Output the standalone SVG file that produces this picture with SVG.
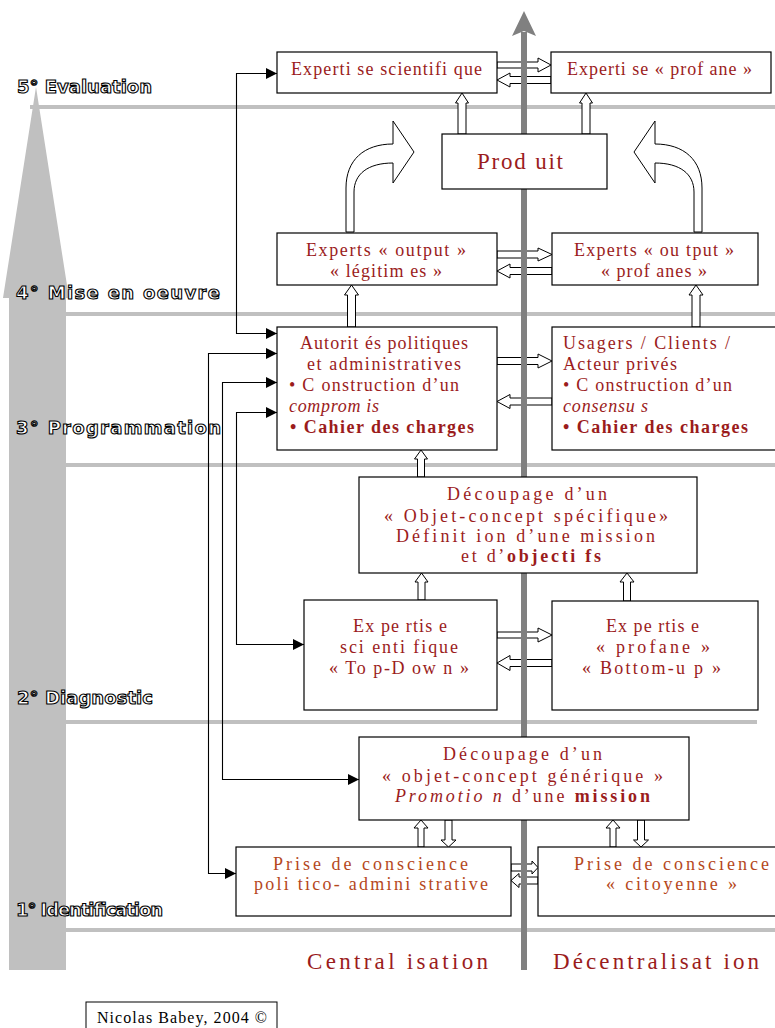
<svg xmlns="http://www.w3.org/2000/svg" width="775" height="1028" viewBox="0 0 775 1028" xml:space="preserve">
<defs>
<marker id="ah" markerUnits="userSpaceOnUse" markerWidth="11" markerHeight="11" refX="11" refY="5.5" orient="auto-start-reverse"><path d="M0,0 L11,5.5 L0,11 Z" fill="#000"/></marker>
<style>
.stage{stroke:#c0c0c0;stroke-width:4;fill:none}
.box{fill:#fff;stroke:#000;stroke-width:1.2}
.blk{fill:#fff;stroke:#000;stroke-width:1}
.ln{fill:none;stroke:#000;stroke-width:1.1;marker-start:url(#ah);marker-end:url(#ah)}
.t{font-family:"Liberation Serif","Times New Roman",serif;font-size:18px;fill:#9b1c1c}
.big{font-size:23px}
.o{fill:#b5481c}
.b{font-weight:bold}
.i{font-style:italic}
.lab{font-family:"DejaVu Sans","Liberation Sans",sans-serif;font-weight:bold;font-size:18px;fill:#fff;stroke:#000;stroke-width:1.1}
.cr{font-family:"Liberation Serif","Times New Roman",serif;font-size:16px;fill:#000}
</style>
</defs>
<g id="background">
<path class="stage" d="M30,107 H775 M60,314 H775 M60,465 H775 M60,722 H757 M60,930 H775"/>
<polygon points="9,970 9,298 3,298 36,87 69,298 66,298 66,970" fill="#c0c0c0"/>
</g>
<g id="connectors">
<polygon class="blk" points="497,62 538,62 538,58 551,65 538,72 538,68 497,68"/>
<polygon class="blk" points="497,80 510,73 510,76.5 551,76.5 551,83.5 510,83.5 510,87"/>
<polygon class="blk" points="497,251 538,251 538,248 552,254.5 538,261 538,258 497,258"/>
<polygon class="blk" points="497,271 510,264 510,267.5 552,267.5 552,274.5 510,274.5 510,278"/>
<polygon class="blk" points="497,357.5 538,357.5 538,354 552,361 538,368 538,364.5 497,364.5"/>
<polygon class="blk" points="497,401.5 510,394.5 510,398 552,398 552,405 510,405 510,408.5"/>
<polygon class="blk" points="497,632 538,632 538,628 552,635 538,642 538,638 497,638"/>
<polygon class="blk" points="497,663 510,655.5 510,659.5 552,659.5 552,666.5 510,666.5 510,670.5"/>
<polygon class="blk" points="511,864 532,864 532,861 538,867.5 532,874 532,871 511,871"/>
<polygon class="blk" points="511,880.5 519,873.5 519,877 538,877 538,884 519,884 519,887.5"/>
<polygon class="blk" points="458,134 458,103 455.5,103 462,93 468.5,103 466,103 466,134"/>
<polygon class="blk" points="582,134 582,103 579.5,103 586,93 592.5,103 590,103 590,134"/>
<polygon class="blk" points="347.5,327 347.5,295 344.5,295 351.5,285 358.5,295 355.5,295 355.5,327"/>
<polygon class="blk" points="692,327 692,295 689,295 696,285 703,295 700,295 700,327"/>
<polygon class="blk" points="417.5,477 417.5,459 414.5,459 421,450 427.5,459 424.5,459 424.5,477"/>
<polygon class="blk" points="418,600 418,582 415,582 421.5,573 428,582 425,582 425,600"/>
<polygon class="blk" points="623.5,601 623.5,582 620,582 627,573 634,582 630.5,582 630.5,601"/>
<polygon class="blk" points="418,847 418,828 414,828 421,820 428,828 424,828 424,847"/>
<polygon class="blk" points="445,820 452,820 452,840 456,840 448.5,847 441,840 445,840"/>
<polygon class="blk" points="610,847 610,828 606,828 613,820 620,828 616,828 616,847"/>
<polygon class="blk" points="637.5,820 644.5,820 644.5,840 648.5,840 641,847 633.5,840 637.5,840"/>
<path class="blk" d="M346,232 L346,188 C346,160 364,144 393,144 L393,121 L414,152 L393,183 L393,163 C368,163 354,174 354,192 L354,232 Z"/>
<path class="blk" d="M702,232 L702,188 C702,160 684,144 655,144 L655,121 L634,152 L655,183 L655,163 C680,163 694,174 694,192 L694,232 Z"/>
<path class="ln" d="M277,73.5 H236.5 V333.5 H277"/>
<path class="ln" d="M277,353.5 H208.5 V873.5 H236"/>
<path class="ln" d="M277,382.5 H222.5 V779.5 H359"/>
<path class="ln" d="M277,412.5 H236.5 V644.5 H304"/>
</g>
<g id="axis">
<line x1="524" y1="32" x2="524" y2="970" stroke="#808080" stroke-width="6"/>
<polygon points="512,36 524,11 536,36 524,31" fill="#808080"/>
</g>
<g id="n1"><rect class="box" x="277" y="52" width="220" height="41"/><text class="t" x="291" y="75" textLength="191">Experti se scientifi que</text></g>
<g id="n2"><rect class="box" x="551" y="52" width="220" height="41"/><text class="t" x="567" y="75" textLength="185">Experti se « prof ane »</text></g>
<g id="n3"><rect class="box" x="442" y="134" width="165" height="55"/><text class="t big" x="477" y="169" textLength="86">Prod uit</text></g>
<g id="n4"><rect class="box" x="277" y="233" width="220" height="52"/><text class="t" x="306" y="256" textLength="160">Experts « output »</text><text class="t" x="330" y="277" textLength="112">« légitim es »</text></g>
<g id="n5"><rect class="box" x="552" y="233" width="206" height="52"/><text class="t" x="574" y="256" textLength="160">Experts « ou tput »</text><text class="t" x="601" y="277" textLength="106">« prof anes »</text></g>
<g id="n6"><rect class="box" x="277" y="327" width="220" height="123"/>
<text class="t" x="300" y="349" textLength="168">Autorit és politiques</text>
<text class="t" x="307" y="370" textLength="154">et administratives</text>
<text class="t" x="289" y="391" textLength="170">• C onstruction d’un</text>
<text class="t i" x="289" y="412" textLength="90">comprom is</text>
<text class="t b" x="290" y="433" textLength="184">• Cahier des charges</text></g>
<g id="n7"><rect class="box" x="552" y="327" width="230" height="123"/>
<text class="t" x="563" y="349" textLength="167">Usagers / Clients  /</text>
<text class="t" x="563" y="370" textLength="114">Acteur privés</text>
<text class="t" x="563" y="391" textLength="169">• C onstruction d’un</text>
<text class="t i" x="563" y="412" textLength="85">consensu s</text>
<text class="t b" x="563" y="433" textLength="185">• Cahier des charges</text></g>
<g id="n8"><rect class="box" x="359" y="477" width="338" height="96"/>
<text class="t" x="447" y="500" textLength="160">Découpage d’un</text>
<text class="t" x="384" y="522" textLength="284">« Objet-concept spécifique»</text>
<text class="t" x="396" y="542" textLength="259">Définit ion  d’une mission</text>
<text class="t" x="461" y="562" textLength="140">et d’<tspan class="b">objecti fs</tspan></text></g>
<g id="n9"><rect class="box" x="304" y="600" width="193" height="110"/>
<text class="t" x="353" y="632" textLength="94">Ex pe rtis e</text>
<text class="t" x="340" y="653" textLength="118">sci enti fique</text>
<text class="t" x="329" y="674" textLength="140">« To p-D ow n »</text></g>
<g id="n10"><rect class="box" x="552" y="601" width="206" height="109"/>
<text class="t" x="606" y="632" textLength="93">Ex pe rtis e</text>
<text class="t" x="596" y="653" textLength="114">« profane »</text>
<text class="t" x="582" y="674" textLength="139">« Bottom-u  p »</text></g>
<g id="n11"><rect class="box" x="359" y="737" width="330" height="83"/>
<text class="t" x="443" y="760" textLength="159">Découpage d’un</text>
<text class="t" x="382" y="782" textLength="281">« objet-concept générique »</text>
<text class="t" x="395" y="802" textLength="255"><tspan class="i">Promotio n</tspan> d’une <tspan class="b">mission</tspan></text></g>
<g id="n12"><rect class="box" x="236" y="847" width="275" height="69"/>
<text class="t o" x="273" y="870" textLength="195">Prise de conscience</text>
<text class="t o" x="254" y="890" textLength="234">poli tico- admini strative</text></g>
<g id="n13"><rect class="box" x="538" y="847" width="245" height="69"/>
<text class="t o" x="574" y="870" textLength="195">Prise de conscience</text>
<text class="t o" x="606" y="890" textLength="131">« citoyenne »</text></g>
<g id="axis-labels">
<text class="t big" x="307" y="969" textLength="181">Central  isation</text>
<text class="t big" x="553" y="969" textLength="206">Décentralisat  ion</text>
</g>
<g id="stage-labels">
<text class="lab" x="17" y="93" textLength="135">5° Evaluation</text>
<text class="lab" x="16" y="299" textLength="204">4° Mise en oeuvre</text>
<text class="lab" x="16" y="434" textLength="205">3° Programmation</text>
<text class="lab" x="17" y="704" textLength="136">2° Diagnostic</text>
<text class="lab" x="16" y="916" textLength="147">1° Identification</text>
</g>
<g id="credit">
<rect x="86" y="1002" width="191" height="40" fill="#fff" stroke="#000" stroke-width="1"/>
<text class="cr" x="97" y="1023" textLength="170">Nicolas Babey, 2004 ©</text>
</g>
</svg>
